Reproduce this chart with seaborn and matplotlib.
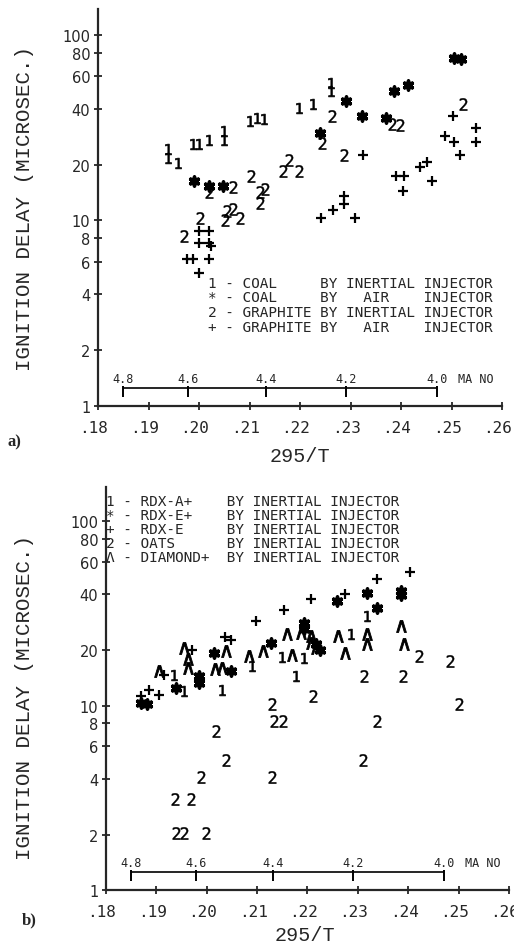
import matplotlib
matplotlib.use("Agg")
import matplotlib.pyplot as plt
from matplotlib.ticker import NullLocator
from matplotlib.transforms import ScaledTranslation
import seaborn as sns

# ---- panel a: coal / graphite ----
coal_inertial_x = [.1939, .1939, .1958, .1989, .1999, .2019, .2050, .2050, .2100, .2114,
                   .2129, .2197, .2226, .2261, .2261]
coal_inertial_y = [24.3, 21.7, 20.4, 25.7, 25.7, 27.3, 30.3, 27.3, 34.3, 35.8,
                   35.1, 40.5, 42.3, 55.3, 49.9]

coal_air_x = [.1990, .2020, .2048, .2240, .2291, .2322, .2370, .2386, .2413, .2504, .2518]
coal_air_y = [16.4, 15.4, 15.4, 29.7, 44.0, 36.8, 35.8, 49.9, 53.6, 74.8, 74.2]

graphite_inertial_x = [.2522, .2382, .2398, .2263, .2243, .2287, .2179, .2166, .2197, .2102,
                       .2020, .2068, .2121, .2131, .2120, .2001, .2055, .2067, .2052, .2081,
                       .1970]
graphite_inertial_y = [42.3, 33.3, 32.9, 36.5, 26.2, 22.6, 21.3, 18.4, 18.4, 17.3,
                       14.2, 15.1, 14.2, 14.8, 12.4, 10.3, 11.3, 11.5, 10.1, 10.3,
                       8.2]

graphite_air_x = [.2502, .2549, .2549, .2487, .2504, .2516, .2451, .2438, .2461, .2390,
                  .2405, .2403, .2324, .2241, .2266, .2287, .2287, .2309, .2000, .2020,
                  .2000, .2020, .2023, .1976, .1989, .2020, .1999]
graphite_air_y = [36.8, 31.6, 26.4, 28.7, 26.4, 22.6, 20.6, 19.4, 16.4, 17.4,
                  17.4, 14.5, 22.6, 10.3, 11.4, 13.6, 12.3, 10.3, 8.8, 8.8,
                  7.6, 7.6, 7.3, 6.2, 6.2, 6.2, 5.2]

# ---- panel b: RDX / oats / diamond ----
rdx_a_x = [.2318, .2287, .2177, .2149, .2194, .2090, .2031, .1935, .1955]
rdx_a_y = [30.6, 24.3, 14.4, 18.4, 18.1, 16.4, 12.2, 14.6, 12.0]

rdx_e_plus_x = [.2386, .2386, .2318, .2258, .2339, .2194, .2194, .2127, .2015, .2048,
                .1985, .1985, .1939, .1869, .1882, .2217, .2224]
rdx_e_plus_y = [41.8, 39.6, 40.6, 36.9, 34.0, 28.1, 25.9, 21.7, 19.3, 15.4,
                14.4, 13.3, 12.5, 10.3, 10.2, 21.5, 20.1]

rdx_e_x = [.2404, .2339, .2275, .2207, .2154, .2098, .2037, .2048, .1915, .1885,
           .1905, .1869, .1971]
rdx_e_y = [53.0, 48.8, 40.1, 37.7, 33.0, 28.7, 23.6, 22.6, 14.6, 12.2,
           11.4, 11.2, 20.1]

oats_x = [.2421, .2483, .2313, .2389, .2210, .2129, .2500, .2134, .2151, .2339,
          .2018, .2038, .2310, .1988, .2129, .1937, .1968, .1939, .1955, .1998]
oats_y = [18.5, 17.4, 14.4, 14.4, 11.3, 10.2, 10.2, 8.2, 8.2, 8.2,
          7.25, 5.1, 5.1, 4.1, 4.1, 3.1, 3.1, 2.05, 2.05, 2.05]

diamond_x = [.2386, .2392, .2318, .2318, .2260, .2275, .2159, .2187, .2170, .2207,
             .2207, .2217, .2111, .2083, .2038, .2017, .2031, .1955, .1962, .1962,
             .1905]
diamond_y = [27.0, 21.5, 24.3, 21.5, 23.8, 19.2, 24.3, 24.8, 18.9, 23.8,
             21.9, 20.6, 19.7, 18.5, 19.7, 15.7, 16.0, 20.6, 17.8, 16.0,
             15.4]

# ---- axes / annotation text ----
x_ticks = [.18, .19, .20, .21, .22, .23, .24, .25, .26]
x_tick_labels = [".18", ".19", ".20", ".21", ".22", ".23", ".24", ".25", ".26"]
y_ticks = [1, 2, 4, 6, 8, 10, 20, 40, 60, 80, 100]
y_tick_labels = ["1", "2", "4", "6", "8", "10", "20", "40", "60", "80", "100"]

mach_x = [.1849, .1978, .2132, .2291, .2471]
mach_labels = ["4.8", "4.6", "4.4", "4.2", "4.0"]
mach_y = 1.25

legend_a = ["1 - COAL     BY INERTIAL INJECTOR",
            "* - COAL     BY   AIR    INJECTOR",
            "2 - GRAPHITE BY INERTIAL INJECTOR",
            "+ - GRAPHITE BY   AIR    INJECTOR"]
legend_b = ["1 - RDX-A+    BY INERTIAL INJECTOR",
            "* - RDX-E+    BY INERTIAL INJECTOR",
            "+ - RDX-E     BY INERTIAL INJECTOR",
            "2 - OATS      BY INERTIAL INJECTOR",
            "Λ - DIAMOND+  BY INERTIAL INJECTOR"]

MONO = "DejaVu Sans Mono"
LABEL_FONT = "Liberation Mono"

MARK_1 = dict(marker=r"$\mathtt{1}$", s=60, color="k", edgecolor="k", linewidth=0.5)
MARK_2 = dict(marker=r"$\mathtt{2}$", s=80, color="k", edgecolor="k", linewidth=0.3)
MARK_PLUS = dict(marker="+", s=55, color="k", linewidth=1.6)
MARK_STAR = dict(marker=(6, 2, 0), s=40, color="k", linewidth=2.6)
MARK_CARET = dict(marker=r"$\wedge$", s=75, color="k", edgecolor="k", linewidth=0.6)

sns.set_style("ticks")
plt.rcParams["font.family"] = ["DejaVu Sans"]

fig = plt.figure(figsize=(5.14, 9.45), dpi=100)
ax_a = fig.add_axes([0.1907, 0.5693, 0.786, 0.4201])
ax_b = fig.add_axes([0.2062, 0.0571, 0.784, 0.4265])
shift_left = ScaledTranslation(-4 / 100, 0, fig.dpi_scale_trans)


def style_axes(ax, ymax):
    ax.set_yscale("log")
    ax.set_xlim(0.18, 0.26)
    ax.set_ylim(1, ymax)
    ax.set_xticks(x_ticks)
    ax.set_xticklabels(x_tick_labels, family=MONO, fontsize=11.5)
    ax.set_yticks(y_ticks)
    ax.set_yticklabels(y_tick_labels, fontsize=10.5)
    ax.yaxis.set_minor_locator(NullLocator())
    ax.tick_params(axis="x", direction="inout", length=6, width=1.3, pad=7.0)
    ax.tick_params(axis="y", direction="inout", length=6, width=1.3, pad=2.5)
    # the plotter labels sit a little left of their ticks
    for tick in ax.xaxis.get_major_ticks():
        tick.label1.set_transform(tick.label1.get_transform() + shift_left)
    sns.despine(ax=ax)
    for side in ["left", "bottom"]:
        ax.spines[side].set_linewidth(1.6)
    ax.set_xlabel("295/T", family=LABEL_FONT, fontsize=14.5)
    ax.set_ylabel("IGNITION DELAY (MICROSEC.)", family=LABEL_FONT, fontsize=15)

    # Mach number scale
    ax.hlines(mach_y, mach_x[0], mach_x[-1], color="k", linewidth=1.2)
    ax.vlines(mach_x, mach_y / 1.12, mach_y * 1.03, color="k", linewidth=1.4)
    for xm, lab in zip(mach_x, mach_labels):
        ax.annotate(lab, (xm, mach_y), xytext=(0, 2.5), textcoords="offset points",
                    ha="center", va="bottom", family=MONO, fontsize=8.5)
    ax.annotate("MA NO", (mach_x[-1], mach_y), xytext=(15, 2.5), textcoords="offset points",
                ha="left", va="bottom", family=MONO, fontsize=8.5)


# panel a
sns.scatterplot(x=coal_inertial_x, y=coal_inertial_y, ax=ax_a, legend=False, **MARK_1)
sns.scatterplot(x=coal_air_x, y=coal_air_y, ax=ax_a, legend=False, **MARK_STAR)
sns.scatterplot(x=graphite_inertial_x, y=graphite_inertial_y, ax=ax_a, legend=False, **MARK_2)
sns.scatterplot(x=graphite_air_x, y=graphite_air_y, ax=ax_a, legend=False, **MARK_PLUS)
style_axes(ax_a, 138)
ax_a.xaxis.set_label_coords(0.5, -0.10)
ax_a.yaxis.set_label_coords(-0.158, 0.5)
for i, line in enumerate(legend_a):
    ax_a.text(0.271, 0.311 - i * 0.037, line, transform=ax_a.transAxes,
              family=MONO, fontsize=10.4, ha="left", va="center")

# panel b
sns.scatterplot(x=rdx_a_x, y=rdx_a_y, ax=ax_b, legend=False, **MARK_1)
sns.scatterplot(x=rdx_e_plus_x, y=rdx_e_plus_y, ax=ax_b, legend=False, **MARK_STAR)
sns.scatterplot(x=rdx_e_x, y=rdx_e_y, ax=ax_b, legend=False, **MARK_PLUS)
sns.scatterplot(x=oats_x, y=oats_y, ax=ax_b, legend=False, **MARK_2)
sns.scatterplot(x=diamond_x, y=diamond_y, ax=ax_b, legend=False, **MARK_CARET)
style_axes(ax_b, 153)
ax_b.xaxis.set_label_coords(0.494, -0.086)
ax_b.yaxis.set_label_coords(-0.179, 0.48)
for i, line in enumerate(legend_b):
    ax_b.text(0.0, 0.966 - i * 0.0352, line, transform=ax_b.transAxes,
              family=MONO, fontsize=10.4, ha="left", va="center")

fig.text(7 / 514, 1 - 442 / 945, "a)", family="Liberation Serif", weight="bold",
         fontsize=12, ha="left", va="center")
fig.text(22 / 514, 1 - 920 / 945, "b)", family="Liberation Serif", weight="bold",
         fontsize=12, ha="left", va="center")

fig.savefig("out.png", dpi=100)
